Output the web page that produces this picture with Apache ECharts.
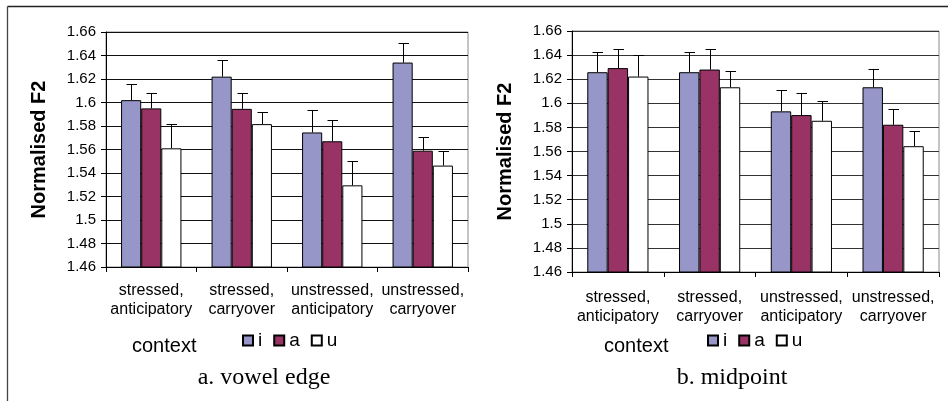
<!DOCTYPE html>
<html>
<head>
<meta charset="utf-8">
<script src="https://cdn.jsdelivr.net/npm/echarts@6/dist/echarts.min.js"></script>
<style>
html,body{margin:0;padding:0;background:#fff;}
#c{width:948px;height:401px;}
</style>
</head>
<body>
<div id="c"></div>
<script>
// ---- data ----
const categories = ['stressed,\nanticipatory', 'stressed,\ncarryover', 'unstressed,\nanticipatory', 'unstressed,\ncarryover'];
const seriesNames = ['i', 'a', 'u'];
// a. vowel edge
const edgeI = [1.602, 1.622, 1.5745, 1.634];
const edgeA = [1.595, 1.5946, 1.567, 1.559];
const edgeU = [1.561, 1.5816, 1.5295, 1.5463];
const edgeErrI = [1.616, 1.6365, 1.5935, 1.6507];
const edgeErrA = [1.608, 1.608, 1.5847, 1.571];
const edgeErrU = [1.5816, 1.592, 1.550, 1.559];
// b. midpoint
const midI = [1.6258, 1.6258, 1.5933, 1.6133];
const midA = [1.6292, 1.628, 1.5902, 1.5822];
const midU = [1.6222, 1.6133, 1.5855, 1.5644];
const midErrI = [1.6425, 1.6425, 1.6113, 1.6288];
const midErrA = [1.6447, 1.6447, 1.6086, 1.5953];
const midErrU = [1.6397, 1.6272, 1.602, 1.5767];
const yMin = 1.46, yMax = 1.66, yStep = 0.02;
const panelTitles = ['a. vowel edge', 'b. midpoint'];
const xTitle = 'context';
const yTitle = 'Normalised F2';

// ---- styles ----
const colors = ['#9696c8', '#993366', '#ffffff'];
const catGap = 0.333;
const sans = 'Liberation Sans, Arial, sans-serif';
const serif = 'Liberation Serif, Times New Roman, serif';

function errData(vals, errs) {
  const out = [];
  vals.forEach((vs, s) => vs.forEach((v, c) => out.push([c, s, v, errs[s][c]])));
  return out;
}

function renderErr(params, api) {
  const c = api.value(0), s = api.value(1), v = api.value(2), e = api.value(3);
  const p0 = api.coord([c, v]);
  const p1 = api.coord([c, e]);
  const band = api.size([1, 0])[0];
  const bw = band * (1 - catGap) / 3;
  const x = Math.round(p0[0] + (s - 1) * bw) + 0.5;
  const yT = Math.round(p1[1]) + 0.5;
  const st = { stroke: '#000', lineWidth: 1 };
  return {
    type: 'group',
    children: [
      { type: 'line', shape: { x1: x, y1: p0[1], x2: x, y2: yT }, style: st },
      { type: 'line', shape: { x1: x - 5, y1: yT, x2: x + 5.5, y2: yT }, style: st }
    ]
  };
}

const grids = [
  { left: 106, top: 32, width: 362, height: 235 },
  { left: 572, top: 31, width: 367, height: 241 }
];
const panels = [
  { vals: [edgeI, edgeA, edgeU], errs: [edgeErrI, edgeErrA, edgeErrU], split: '#111', labelMargin: 14 },
  { vals: [midI, midA, midU], errs: [midErrI, midErrA, midErrU], split: '#333', labelMargin: 16 }
];

const option = {
  animation: false,
  backgroundColor: '#fff',
  grid: grids.map(g => Object.assign({ show: true, borderColor: '#8a8a8a', borderWidth: 1, backgroundColor: 'transparent', containLabel: false }, g)),
  xAxis: grids.map((g, i) => ({
    type: 'category', gridIndex: i, data: categories,
    axisLine: { lineStyle: { color: '#000', width: 1 } },
    axisTick: { show: true, length: 5, lineStyle: { color: '#000' } },
    axisLabel: { interval: 0, color: '#000', fontFamily: sans, fontSize: 16, lineHeight: 19, margin: panels[i].labelMargin }
  })),
  yAxis: grids.map((g, i) => ({
    type: 'value', gridIndex: i, min: yMin, max: yMax, interval: yStep,
    name: yTitle, nameLocation: 'middle', nameGap: 57,
    nameTextStyle: { fontFamily: sans, fontSize: 20, fontWeight: 'bold', color: '#000' },
    axisLine: { show: true, lineStyle: { color: '#000', width: 1 } },
    axisTick: { show: true, length: 5, lineStyle: { color: '#000' } },
    axisLabel: { color: '#000', fontFamily: sans, fontSize: 15, margin: 10 },
    splitLine: { show: true, lineStyle: { color: panels[i].split, width: 1 } }
  })),
  legend: [0, 1].map(i => ({
    data: seriesNames, left: i === 0 ? 242 : 707, top: 331, padding: 0,
    itemWidth: 10, itemHeight: 10, itemGap: 11, icon: 'rect',
    textStyle: { fontFamily: sans, fontSize: 19, color: '#000' }
  })),
  title: [
    { text: panelTitles[0], left: 259, top: 361, textAlign: 'center', textStyle: { fontFamily: serif, fontSize: 24, fontWeight: 'normal', color: '#000' } },
    { text: panelTitles[1], left: 727, top: 361, textAlign: 'center', textStyle: { fontFamily: serif, fontSize: 24, fontWeight: 'normal', color: '#000' } },
    { text: xTitle, left: 127, top: 331, textStyle: { fontFamily: sans, fontSize: 20, fontWeight: 'normal', color: '#000' } },
    { text: xTitle, left: 599, top: 331, textStyle: { fontFamily: sans, fontSize: 20, fontWeight: 'normal', color: '#000' } }
  ],
  graphic: [
    { type: 'line', shape: { x1: 7.5, y1: 6.5, x2: 948, y2: 6.5 }, style: { stroke: '#222', lineWidth: 1.3 } },
    { type: 'line', shape: { x1: 7.5, y1: 6.5, x2: 7.5, y2: 401 }, style: { stroke: '#444', lineWidth: 1.3 } }
  ],
  series: []
};

panels.forEach((p, gi) => {
  p.vals.forEach((vs, s) => {
    option.series.push({
      type: 'bar', name: seriesNames[s], xAxisIndex: gi, yAxisIndex: gi,
      data: vs, barGap: '0%', barCategoryGap: (catGap * 100) + '%',
      itemStyle: { color: colors[s], borderColor: '#000', borderWidth: 1 },
      emphasis: { disabled: true }
    });
  });
  option.series.push({
    type: 'custom', xAxisIndex: gi, yAxisIndex: gi,
    data: errData(p.vals, p.errs), encode: { x: 0, y: 3 },
    renderItem: renderErr, z: 5, silent: true
  });
});

const chart = echarts.init(document.getElementById('c'), null, { renderer: 'canvas' });
chart.setOption(option);
</script>
</body>
</html>
